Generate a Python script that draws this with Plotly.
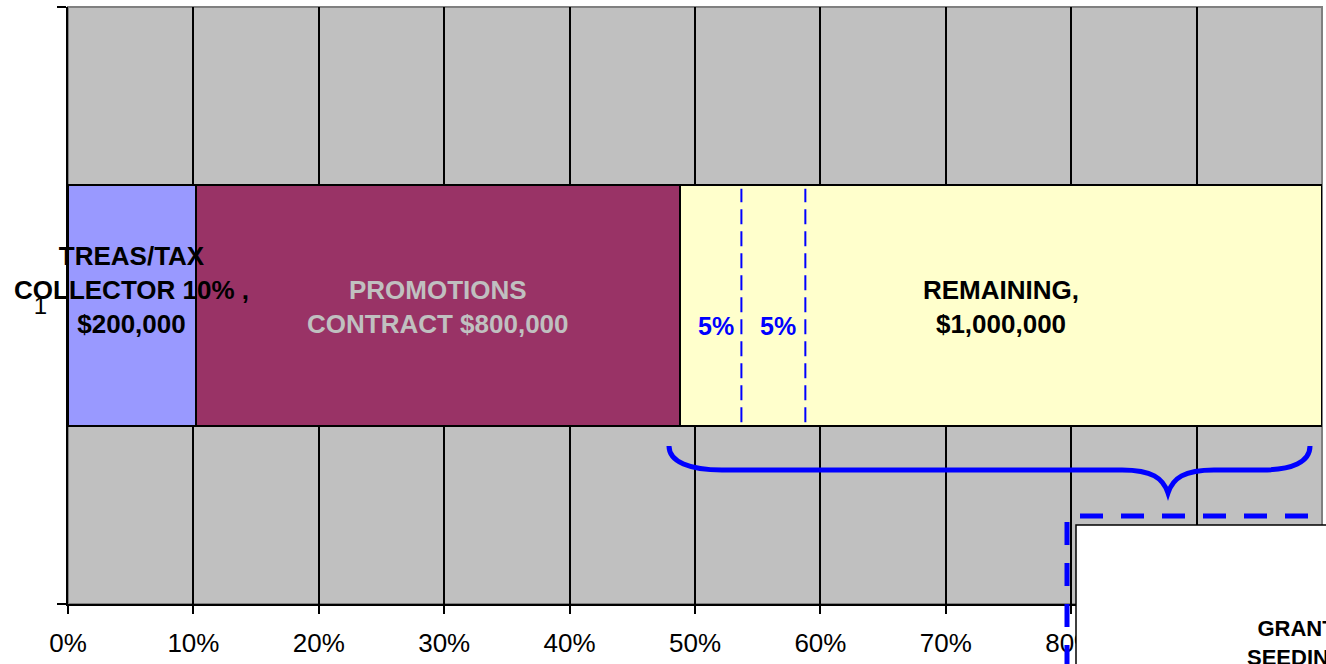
import plotly.graph_objects as go

# ---------------- data ----------------
categories = ["1"]
segment_labels = [
    "TREAS/TAX<br>COLLECTOR 10% ,<br>$200,000",
    "PROMOTIONS<br>CONTRACT $800,000",
    "REMAINING,<br>$1,000,000",
]
segment_pct = [10.2, 38.6, 51.2]
segment_colors = ["#9999FF", "#993366", "#FFFFCC"]
label_colors = ["#000000", "#C0C0C0", "#000000"]
split_pct = [53.7, 58.8]          # dashed splits inside REMAINING
split_labels = ["5%", "5%"]
x_tick_vals = [0, 10, 20, 30, 40, 50, 60, 70, 80, 90, 100]
x_tick_text = [f"{v}%" for v in x_tick_vals]

# ---------------- geometry ----------------
OFF = 0                       # page body margin removed in post_script
W, H = 1326, 664
ML, MR, MT, MB = 68, 4, 7, 60
PW, PH = W - ML - MR, H - MT - MB
BAR_W = 0.403
FONT = "Arial, Liberation Sans, sans-serif"


def px_x(px):   # screen pixel -> x data (percent)
    return (px - OFF - ML) / PW * 100.0


def py_y(py):   # screen pixel -> y data (range -0.5..0.5)
    return 0.5 - (py - OFF - MT) / PH


def px_p(px):
    return (px - OFF - ML) / PW


def py_p(py):
    return 1 - (py - OFF - MT) / PH


fig = go.Figure()
for name, val, col in zip(segment_labels, segment_pct, segment_colors):
    fig.add_trace(go.Bar(
        y=[0], x=[val], orientation="h", width=BAR_W,
        marker=dict(color=col, line=dict(color="black", width=2)),
        name=name, showlegend=False, hoverinfo="skip",
    ))

annotations = []
cum = 0.0
yshifts = [16, -1, -1]
for lab, val, tc, ys in zip(segment_labels, segment_pct, label_colors, yshifts):
    annotations.append(dict(
        x=cum + val / 2, y=0, xref="x", yref="y", text=lab, showarrow=False,
        font=dict(family=FONT, size=26, color=tc, weight="bold"),
        align="center", yshift=ys, xanchor="center", yanchor="middle",
    ))
    cum += val

# 5% labels in the sub-parts of REMAINING
bounds = [segment_pct[0] + segment_pct[1]] + split_pct
for i, lab in enumerate(split_labels):
    mid = (bounds[i] + bounds[i + 1]) / 2
    annotations.append(dict(
        x=mid, y=0, xref="x", yref="y", text=lab, showarrow=False,
        font=dict(family=FONT, size=25, color="#0000FF", weight="bold"),
        xshift=5, yshift=-20, xanchor="center", yanchor="middle",
    ))

# GRANT SEEDING box text (cut off at right edge)
annotations.append(dict(
    x=px_p(1296), y=py_p(643), xref="paper", yref="paper",
    xanchor="center", yanchor="middle",
    text="GRANT<br>SEEDING", showarrow=False, align="center",
    font=dict(family=FONT, size=22, color="black", weight="bold"),
))

shapes = []
# plot-area gray border (drawn below axes)
shapes.append(dict(type="rect", xref="paper", yref="paper", x0=0, y0=0, x1=1, y1=1,
                   line=dict(color="#808080", width=2), layer="below"))
# dashed split lines
for s in split_pct:
    shapes.append(dict(type="line", xref="x", yref="y", x0=s, x1=s,
                       y0=-BAR_W / 2 + 0.006, y1=BAR_W / 2 - 0.006,
                       line=dict(color="#0000FF", width=2, dash="15px,7px")))
# brace
pts = [(669, 446), (669, 462), (690, 470), (722, 470), (1122, 470),
       (1152, 470), (1163, 478), (1168, 493), (1173, 478), (1184, 470),
       (1214, 470), (1262, 470), (1292, 470), (1310, 462), (1310, 446)]
P = [(px_x(a), py_y(b)) for a, b in pts]
path = (f"M {P[0][0]},{P[0][1]} C {P[1][0]},{P[1][1]} {P[2][0]},{P[2][1]} {P[3][0]},{P[3][1]} "
        f"L {P[4][0]},{P[4][1]} C {P[5][0]},{P[5][1]} {P[6][0]},{P[6][1]} {P[7][0]},{P[7][1]} "
        f"C {P[8][0]},{P[8][1]} {P[9][0]},{P[9][1]} {P[10][0]},{P[10][1]} "
        f"L {P[11][0]},{P[11][1]} C {P[12][0]},{P[12][1]} {P[13][0]},{P[13][1]} {P[14][0]},{P[14][1]}")
shapes.append(dict(type="path", xref="x", yref="y", path=path,
                   line=dict(color="#0000FF", width=5)))
# dashed box outline
shapes.append(dict(type="line", xref="paper", yref="paper",
                   x0=px_p(1080), x1=px_p(1400), y0=py_p(516), y1=py_p(516),
                   line=dict(color="#0000FF", width=5, dash="23px,18px")))
shapes.append(dict(type="line", xref="paper", yref="paper",
                   x0=px_p(1067), x1=px_p(1067), y0=py_p(522), y1=py_p(720),
                   line=dict(color="#0000FF", width=5, dash="23px,18px")))
# white text box
shapes.append(dict(type="rect", xref="paper", yref="paper",
                   x0=px_p(1076), x1=px_p(1450), y0=py_p(525), y1=py_p(760),
                   fillcolor="white", line=dict(color="black", width=1.5)))

fig.update_layout(
    width=W, height=H,
    margin=dict(l=ML, r=MR, t=MT, b=MB, pad=0),
    paper_bgcolor="white", plot_bgcolor="#C0C0C0",
    barmode="stack", bargap=0,
    font=dict(family=FONT, size=26, color="black"),
    annotations=annotations, shapes=shapes,
    xaxis=dict(range=[0, 100], tickvals=x_tick_vals, ticktext=x_tick_text,
               showgrid=True, gridcolor="black", gridwidth=2,
               showline=True, linecolor="black", linewidth=2,
               ticks="outside", ticklen=8, tickwidth=2, tickcolor="black",
               ticklabelstandoff=7,
               zeroline=False, fixedrange=True,
               tickfont=dict(family=FONT, size=26, color="black")),
    yaxis=dict(range=[-0.5, 0.5], tickvals=[0], ticktext=categories,
               showgrid=False, zeroline=False,
               showline=True, linecolor="black", linewidth=2,
               ticks="", ticklabelstandoff=14,
               minor=dict(tickvals=[-0.5, 0.5], ticks="outside", ticklen=9,
                          tickwidth=2, tickcolor="black", showgrid=False),
               fixedrange=True,
               tickfont=dict(family=FONT, size=24, color="black")),
)

fig.write_html("out.html", config={"displayModeBar": False},
               post_script="document.body.style.margin='0';"
                           "document.documentElement.style.overflow='hidden';")
